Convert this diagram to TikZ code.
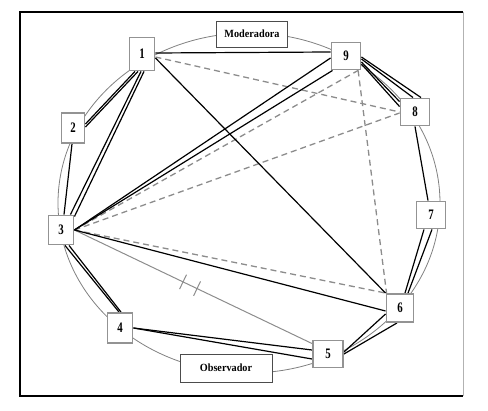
\documentclass[tikz,border=0pt]{standalone}
\usepackage{fontspec}
\usepackage{graphicx}
\setmainfont{Liberation Serif}
\usetikzlibrary{calc}
\pgfdeclarelayer{bg}
\pgfsetlayers{bg,main}
\newcommand\nsq[1]{\scalebox{0.75}[1]{#1}}
\newcommand\lsq[1]{\scalebox{0.93}[1]{#1}}
\definecolor{boxgray}{HTML}{939393}
\definecolor{dgray}{HTML}{8C8C8C}
\tikzset{
  num/.style={draw=boxgray, line width=1.9pt, fill=white, inner sep=0pt,
    font=\fontsize{14.5}{14}\selectfont\bfseries, minimum width=28pt, minimum height=27pt},
  lab/.style={draw=black!70, line width=0.8pt, fill=white, inner sep=0pt,
    font=\fontsize{11}{12}\selectfont\bfseries},
  ln/.style={line width=1.2pt, black},
  dsh/.style={line width=1.3pt, dgray, dash pattern=on 6pt off 4pt},
  gl/.style={line width=1pt, dgray},
  ring/.style={line width=0.8pt, gray}
}
\begin{document}
\begin{tikzpicture}[x=1pt,y=-1pt]
\useasboundingbox (0,0) rectangle (488,411);
% frame
\draw[line width=1.2pt] (463,12) -- (20,12) -- (20,396) -- (463,396);
\draw[gray!60, line width=0.8pt] (463,12) -- (463,396);

% nodes
\node[num, minimum width=25pt, minimum height=33pt] (n1) at (142,54) {\nsq{1}};
\node[num, minimum width=23pt, minimum height=30pt] (n2) at (73,128) {\nsq{2}};
\node[num, minimum width=25pt, minimum height=29pt] (n3) at (61,230) {\nsq{3}};
\node[num, minimum width=25pt, minimum height=30pt] (n4) at (120,328) {\nsq{4}};
\node[num, minimum width=30pt] (n5) at (328,354) {\nsq{5}};
\node[num, minimum width=27pt, minimum height=28pt] (n6) at (400,308) {\nsq{6}};
\node[num, minimum width=29pt] (n7) at (431,215) {\nsq{7}};
\node[num, minimum width=29pt] (n8) at (415,112) {\nsq{8}};
\node[num, minimum width=29pt] (n9) at (346,56) {\nsq{9}};
\node[lab, minimum width=71pt, minimum height=26pt] (mod) at (252,34) {\lsq{Moderadora}};
\node[lab, minimum width=92pt, minimum height=28pt] (obs) at (226,368) {\lsq{Observador}};

\coordinate (e5) at ([yshift=-4pt]n5.north west);

\begin{pgfonlayer}{bg}
% ring
\draw[ring] (249,203) ellipse [x radius=191pt, y radius=170pt];

% dashed links
\draw[dsh] ([yshift=-3pt]n1.east) -- (n8.west);
\draw[dsh] (n3.east) -- (n9.-50);
\draw[dsh] (n3.east) -- ([yshift=-1pt]n8.west);
\draw[dsh] (n3.east) -- (n6.north west);
\draw[dsh] (n9.-50) -- ([xshift=1pt]n6.north west);

% grey link 3-5 with ticks
\draw[gl] (n3.east) -- (e5)
  coordinate[pos=0.457] (t1) coordinate[pos=0.516] (t2);
\draw[gl] ($(t1)!8pt!90:(e5)$) -- ($(t1)!8pt!-90:(e5)$);
\draw[gl] ($(t2)!8pt!90:(e5)$) -- ($(t2)!8pt!-90:(e5)$);

% solid links
\draw[ln] ([yshift=1pt]n1.east) -- ([yshift=4pt]n9.west);
\draw[ln] ([xshift=-7pt]n1.south) -- ([yshift=4pt]n2.east);
\draw[ln] ([xshift=-4pt]n1.south) -- ([yshift=1pt]n2.east);
\draw[ln] ([xshift=-1pt]n1.south) -- ([xshift=-4pt]n3.north east);
\draw[ln] ([xshift=2pt]n1.south) -- ([yshift=-2pt]n3.north east);
\draw[ln] ([yshift=-4pt]n1.east) -- (n6.north west);
\draw[ln] ([xshift=-1pt]n2.south) -- ([xshift=3pt]n3.north);
\draw[ln] (n3.east) -- ([yshift=-2pt]n9.west);
\draw[ln] (n3.east) -- ([xshift=2pt]n9.south west);
\draw[ln] (n3.east) -- ([yshift=-3pt]n6.west);
\draw[ln] ([xshift=4pt]n3.south) -- ([xshift=-1pt]n4.north);
\draw[ln] ([xshift=8pt]n3.south) -- ([xshift=1pt]n4.north);
\draw[ln] (n4.east) -- ([yshift=4pt]n5.west);
\draw[ln] (n4.east) -- ([yshift=-5pt]n5.west);
\draw[ln] ([yshift=2pt]n5.east) -- ([yshift=-6pt]n6.west);
\draw[ln] (n5.east) -- ([xshift=-3pt]n6.south);
\draw[ln] ([xshift=5pt]n6.north) -- ([xshift=-7pt]n7.south);
\draw[ln] ([xshift=8pt]n6.north) -- ([xshift=1pt]n7.south);
\draw[ln] ([xshift=-3pt]n7.north) -- (n8.south);
\draw[ln] ([yshift=-1pt]n9.east) -- ([xshift=6pt]n8.north);
\draw[ln] ([yshift=-3pt]n9.east) -- ([xshift=-2pt]n8.north);
\draw[ln] ([yshift=-6pt]n9.east) -- ([yshift=-4pt]n8.north west);
\draw[ln] ([yshift=-8pt]n9.east) -- ([yshift=-9pt]n8.north west);
\end{pgfonlayer}
\end{tikzpicture}
\end{document}
